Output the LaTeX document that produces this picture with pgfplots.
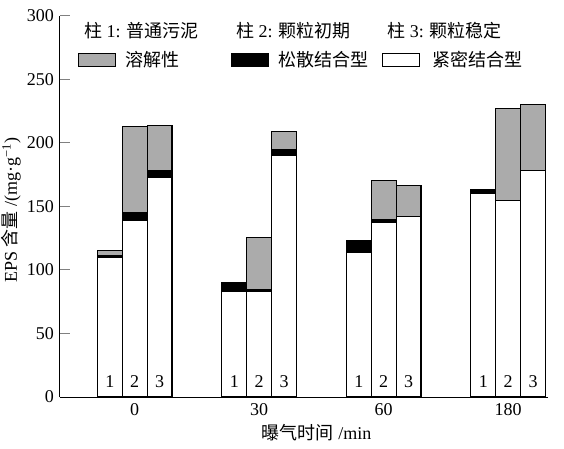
\documentclass[border=0pt]{standalone}
\usepackage{fontspec}
\setmainfont{Liberation Serif}
\newfontfamily\cjk{Noto Sans CJK SC}
\newcommand{\zh}[1]{{\cjk #1}}
\usepackage{pgfplots}
\pgfplotsset{compat=1.18}
\usepackage{pgfplotstable}
\definecolor{solgray}{HTML}{ABABAB}

\pgfplotstableread{
x    white  black  gray
-0.2 110    1.5    3.5
0    139    6      68
0.2  172.5  6      35
0.8  83     7      0
1    83     1.5    41
1.2  190.5  4      14.5
1.8  114    9      0
2    137.5  2      31
2.2  142    0      24.5
2.8  160.5  2.5    0
3    155    0      72
3.2  178.5  0      52
}\epsdata

\pgfplotstableread{
x    y   lab
-0.2 12  1
0    12  2
0.2  12  3
0.8  12  1
1    12  2
1.2  12  3
1.8  12  1
2    12  2
2.2  12  3
2.8  12  1
3    12  2
3.2  12  3
}\labdata

\begin{document}
\fontsize{18bp}{21bp}\selectfont
\begin{tikzpicture}[font=\fontsize{18bp}{21bp}\selectfont]
\path[use as bounding box] (-60bp,-52bp) rectangle (504bp,397bp);
\begin{axis}[
  at={(0,0)}, anchor=south west,
  scale only axis, width=488bp, height=381bp,
  ybar stacked, bar width=0.2,
  xmin=-0.6, xmax=3.32, ymin=0, ymax=300,
  enlargelimits=false,
  axis x line*=bottom, axis y line*=left,
  axis line style={line width=1bp, -},
  xtick={0,1,2,3}, xticklabels={0,30,60,180},
  major x tick style={draw=none},
  ytick={0,50,100,150,200,250,300},
  tick align=inside, major tick length=10bp,
  major y tick style={line width=1bp},
  /pgf/number format/assume math mode=true,
  tick label style={font=\fontsize{18bp}{21bp}\selectfont},
  label style={font=\fontsize{18bp}{21bp}\selectfont},
  ylabel={EPS \zh{含量} /(mg·g\textsuperscript{−1})},
  ylabel style={at={(rel axis cs:-0.1,0.49)}, anchor=center},
  xlabel={\zh{曝气时间} /min},
  xlabel style={at={(rel axis cs:0.526,-0.0945)}, anchor=center},
  clip=false,
  legend columns=3,
  reverse legend,
  legend cell align=left,
  legend style={draw=none, fill=none, at={(rel axis cs:0.0369,0.8845)}, anchor=west,
    inner sep=0pt, outer sep=0pt, nodes={inner sep=0pt},
    column sep=0pt,
    /tikz/every odd column/.append style={column sep=9bp},
    font=\fontsize{18bp}{21bp}\selectfont},
  legend image code/.code={\draw[#1] (0bp,-6.5bp) rectangle (37bp,6.5bp);},
]
\addplot[fill=white, draw=black, line width=1.1bp] table[x=x,y=white]{\epsdata};
\addlegendentry{\hspace{3bp}\zh{紧密结合型}}
\addplot[fill=black, draw=black, line width=1.1bp] table[x=x,y=black]{\epsdata};
\addlegendentry{\makebox[104bp][l]{\zh{松散结合型}}}
\addplot[fill=solgray, draw=black, line width=1.1bp] table[x=x,y=gray]{\epsdata};
\addlegendentry{\makebox[106bp][l]{\zh{溶解性}}}

\node[anchor=west] at (rel axis cs:0.0369,0.9606) {\zh{柱} 1: \zh{普通污泥}};
\node[anchor=west] at (rel axis cs:0.348,0.9606) {\zh{柱} 2: \zh{颗粒初期}};
\node[anchor=west] at (rel axis cs:0.658,0.9606) {\zh{柱} 3: \zh{颗粒稳定}};
\end{axis}
\begin{axis}[
  at={(0,0)}, anchor=south west,
  scale only axis, width=488bp, height=381bp,
  xmin=-0.6, xmax=3.32, ymin=0, ymax=300,
  enlargelimits=false, hide axis, clip=false,
]
\addplot[draw=none, mark=none, nodes near coords, point meta=explicit symbolic,
  every node near coord/.style={anchor=center, font=\fontsize{18bp}{21bp}\selectfont}]
  table[x=x, y=y, meta=lab]{\labdata};
\end{axis}
\end{tikzpicture}
\end{document}
